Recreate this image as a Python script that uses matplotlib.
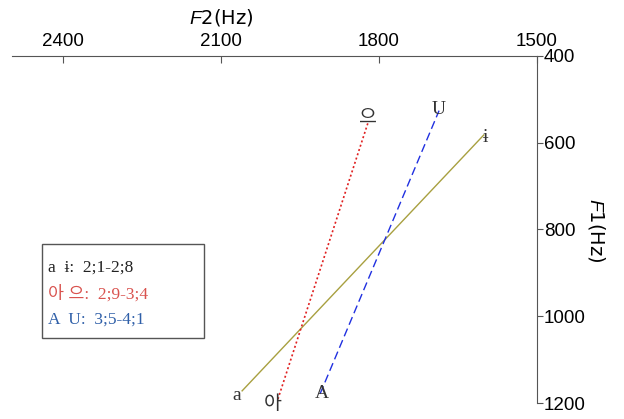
import matplotlib
matplotlib.use("Agg")
import matplotlib.pyplot as plt

plt.rcParams['mathtext.fontset'] = 'custom'
plt.rcParams['mathtext.it'] = 'Liberation Sans:italic'
plt.rcParams['mathtext.rm'] = 'Liberation Sans'

# vowel trajectories (F2, F1) start -> end
a_i_f2 = [2060, 1601]
a_i_f1 = [1172, 582]
ah_eu_f2 = [1992, 1821]
ah_eu_f1 = [1191, 554]
A_U_f2 = [1912, 1686]
A_U_f1 = [1179, 526]

labels_start = ['a', '아', 'A']
labels_end = ['ɨ', '으', 'U']

legend_lines = ['a  ɨ:  2;1-2;8', '아 으:  2;9-3;4', 'A  U:  3;5-4;1']
legend_colors = ['#222222', '#d9534f', '#2f5fa8']

xticks = [2400, 2100, 1800, 1500]
yticks = [400, 600, 800, 1000, 1200]

serif = ['Liberation Serif', 'Noto Sans CJK KR']
korean = ['Noto Sans CJK KR']

fig = plt.figure(figsize=(6.24, 4.19), dpi=100)
ax = fig.add_axes([12/624, 1-403/419, (537-12)/624, (403-56)/419])

ax.plot(a_i_f2, a_i_f1, color='#a8a040', lw=1)
ax.plot(ah_eu_f2, ah_eu_f1, color='#e02020', lw=1.2, ls=(0, (1.2, 1.5)))
ax.plot(A_U_f2, A_U_f1, color='#2030e0', lw=1, ls=(0, (6, 3)))

# label offsets in pixels (dx, dy) from line ends
start_off = [(-5, -5), (-5, -4), (2, 0)]
end_off = [(2, -3), (0, 5), (0, 1)]
label_fam = [serif, korean, serif]

series = [(a_i_f2, a_i_f1), (ah_eu_f2, ah_eu_f1), (A_U_f2, A_U_f1)]
for (f2, f1), s, e, so, eo, fam in zip(series, labels_start, labels_end,
                                       start_off, end_off, label_fam):
    ax.annotate(s, (f2[0], f1[0]), xytext=(so[0]*0.72, so[1]*0.72),
                textcoords='offset points', family=fam, fontsize=14,
                color='#333333', ha='center', va='center')
    ax.annotate(e, (f2[1], f1[1]), xytext=(eo[0]*0.72, eo[1]*0.72),
                textcoords='offset points', family=fam, fontsize=14,
                color='#333333', ha='center', va='center')

ax.set_xlim(2497, 1500)
ax.set_ylim(1200, 400)
ax.set_xticks(xticks)
ax.set_yticks(yticks)
ax.xaxis.tick_top()
ax.yaxis.tick_right()
ax.tick_params(axis='x', direction='in', length=5, labelsize=13.5, color='#555555', pad=4)
ax.tick_params(axis='y', direction='out', length=4, labelsize=13.5, color='#555555', pad=1)
for lab in ax.get_xticklabels() + ax.get_yticklabels():
    lab.set_family('Liberation Sans')
for side in ['left', 'bottom']:
    ax.spines[side].set_visible(False)
for side in ['top', 'right']:
    ax.spines[side].set_color('#555555')
ax.patch.set_alpha(0)

fig.text(221/624, 1-17/419, '$\\it{F}$2(Hz)', fontsize=14, ha='center', va='center')
fig.text(597/624, 1-230/419, '$\\it{F}$1(Hz)', fontsize=14, ha='center', va='center',
         rotation=270)

# legend box
box = plt.Rectangle((42/624, 1-338/419), 162/624, 94/419, transform=fig.transFigure,
                    fill=False, edgecolor='#555555', lw=1)
fig.patches.append(box)
for i, (t, c) in enumerate(zip(legend_lines, legend_colors)):
    fig.text(48/624, 1-(268+26*i)/419, t, family=serif, fontsize=12.5, color=c,
             ha='left', va='center')

fig.savefig('out.png', dpi=100)
